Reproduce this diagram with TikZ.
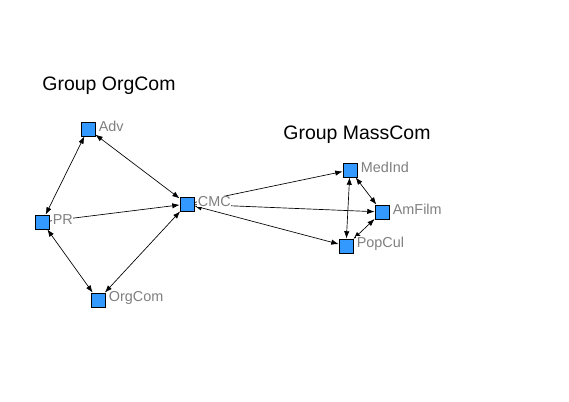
\documentclass[tikz,border=0pt]{standalone}
\usepackage{fontspec}
\setmainfont{Liberation Sans}
\usetikzlibrary{arrows.meta,backgrounds}
\definecolor{actorblue}{RGB}{51,153,255}
\definecolor{labelgray}{RGB}{128,128,128}
\tikzset{
  actor/.style={draw=black,line width=0.6pt,fill=actorblue,minimum size=10.5pt,
                inner sep=0pt,label={[lab]right:#1}},
  lab/.style={font=\fontsize{10.8}{13}\selectfont,text=labelgray,fill=white,
              inner sep=0.4pt,xshift=2pt,yshift=1.8pt},
  group/.style={font=\fontsize{14.6}{17}\selectfont,text=black},
  tie/.style={-{Latex[length=5.5pt,width=4pt]},line width=0.5pt},
  mutual/.style={{Latex[length=5.5pt,width=4pt]}-{Latex[length=5.5pt,width=4pt]},line width=0.5pt},
}

\begin{document}
\begin{tikzpicture}[x=0.75pt,y=-0.75pt]
  \path[use as bounding box] (0,0) rectangle (569,402);
  \node[group] (gOrg) at (109,86) {Group OrgCom};
  \node[group] (gMass) at (357,135) {Group MassCom};

  \node[actor=Adv] (Adv) at (88,129) {};
  \node[actor=PR] (PR) at (42,222) {};
  \node[actor=OrgCom] (OrgCom) at (98,300) {};
  \node[actor=CMC] (CMC) at (187,204) {};
  \node[actor=MedInd] (MedInd) at (350,170) {};
  \node[actor=AmFilm] (AmFilm) at (382,212) {};
  \node[actor=PopCul] (PopCul) at (346,246) {};

  \begin{scope}[on background layer]
    % ties inside OrgCom
    \draw[mutual] (Adv) -- (PR);
    \draw[mutual] (Adv) -- (CMC);
    \draw[tie] (PR) -- (CMC);
    \draw[mutual] (PR) -- (OrgCom);
    \draw[mutual] (OrgCom) -- (CMC);
    % ties to MassCom
    \draw[tie] (CMC) -- (MedInd);
    \draw[tie] (CMC) -- (AmFilm);
    \draw[mutual] (CMC) -- (PopCul);
    \draw[mutual] (MedInd) -- (AmFilm);
    \draw[mutual] (MedInd) -- (PopCul);
    \draw[mutual] (PopCul) -- (AmFilm);
  \end{scope}
\end{tikzpicture}
\end{document}
